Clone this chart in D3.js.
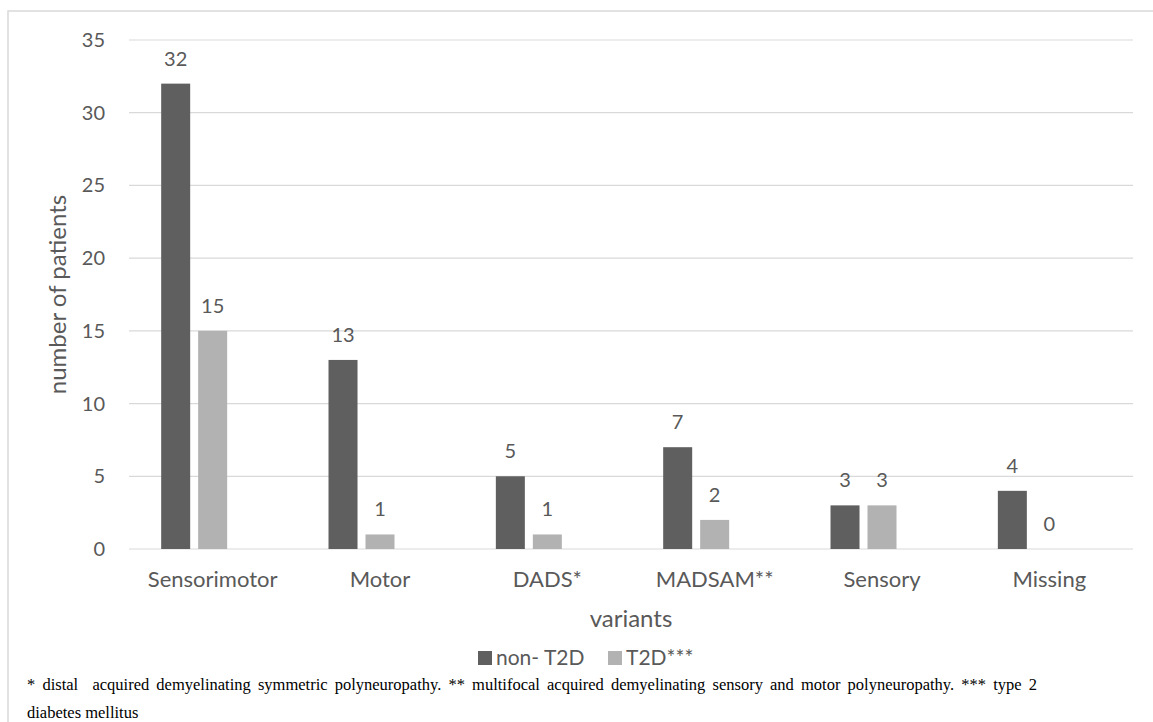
<!DOCTYPE html>
<html>
<head>
<meta charset="utf-8">
<script src="https://cdn.jsdelivr.net/npm/d3@7"></script>
<style>
  body { margin: 0; background: #fff; }
  svg { display: block; }
  .lbl { font-family: Lato, "Open Sans", sans-serif; fill: #595959; }
  .note { font-family: "Liberation Serif", "Times New Roman", serif; fill: #000; white-space: pre; }
</style>
</head>
<body>
<div id="chart"></div>
<script>
// data
const categories = ["Sensorimotor", "Motor", "DADS*", "MADSAM**", "Sensory", "Missing"];
const seriesNames = ["non- T2D", "T2D***"];
const nonT2D = [32, 13, 5, 7, 3, 4];
const t2d = [15, 1, 1, 2, 3, 0];
const yTicks = [0, 5, 10, 15, 20, 25, 30, 35];
const footLines = [
  "* distal  acquired demyelinating symmetric polyneuropathy. ** multifocal acquired demyelinating sensory and motor polyneuropathy. *** type 2",
  "diabetes mellitus"
];

const W = 1153, H = 722;
const color = ["#5f5f5f", "#b2b2b2"];

const svg = d3.select("#chart").append("svg")
  .attr("width", W).attr("height", H);

// outer frame (runs off the right and bottom edge)
svg.append("rect")
  .attr("x", 8).attr("y", 11)
  .attr("width", W).attr("height", H)
  .attr("fill", "none").attr("stroke", "#d9d9d9").attr("stroke-width", 1.5);

const plot = { left: 129, right: 1133, top: 40, bottom: 549 };

const x = d3.scaleBand().domain(categories).range([plot.left, plot.right]);
// Excel leaves room for a third (empty) series slot
const slots = d3.scaleBand().domain([0, 1, 2])
  .range([0, x.bandwidth()]).paddingOuter(0.87).paddingInner(0.216);
const y = d3.scaleLinear().domain([0, 35]).range([plot.bottom, plot.top]);

// gridlines
svg.append("g").selectAll("line").data(yTicks).join("line")
  .attr("x1", plot.left).attr("x2", plot.right)
  .attr("y1", d => y(d)).attr("y2", d => y(d))
  .attr("stroke", "#d9d9d9").attr("stroke-width", 1.2);

// y tick labels
svg.append("g").selectAll("text").data(yTicks).join("text")
  .attr("class", "lbl")
  .attr("x", 105).attr("y", d => y(d))
  .attr("dy", "0.35em")
  .attr("text-anchor", "end")
  .style("font-size", "20px")
  .text(d => d);

const series = [nonT2D, t2d];
const bars = [];
series.forEach((vals, s) => {
  vals.forEach((v, i) => bars.push({ s, cat: categories[i], v }));
});

svg.append("g").selectAll("rect").data(bars).join("rect")
  .attr("x", d => x(d.cat) + slots(d.s))
  .attr("width", slots.bandwidth())
  .attr("y", d => y(d.v))
  .attr("height", d => y(0) - y(d.v))
  .attr("fill", d => color[d.s]);

// value labels
svg.append("g").selectAll("text").data(bars).join("text")
  .attr("class", "lbl")
  .attr("x", d => x(d.cat) + slots(d.s) + slots.bandwidth() / 2)
  .attr("y", d => y(d.v) - 18)
  .attr("text-anchor", "middle")
  .style("font-size", "20px")
  .text(d => d.v);

// category labels
svg.append("g").selectAll("text").data(categories).join("text")
  .attr("class", "lbl")
  .attr("x", d => x(d) + x.bandwidth() / 2)
  .attr("y", 587)
  .attr("text-anchor", "middle")
  .style("font-size", "22px")
  .text(d => d);

// axis titles
svg.append("text").attr("class", "lbl")
  .attr("transform", `translate(66, ${(plot.top + plot.bottom) / 2}) rotate(-90)`)
  .attr("text-anchor", "middle")
  .style("font-size", "24px")
  .text("number of patients");

svg.append("text").attr("class", "lbl")
  .attr("x", (plot.left + plot.right) / 2).attr("y", 627)
  .attr("text-anchor", "middle")
  .style("font-size", "24px")
  .text("variants");

// legend
const legendX = [478, 608];
const lg = svg.append("g").selectAll("g").data(seriesNames).join("g")
  .attr("transform", (d, i) => `translate(${legendX[i]}, 651)`);
lg.append("rect").attr("width", 14).attr("height", 14)
  .attr("fill", (d, i) => color[i]);
lg.append("text").attr("class", "lbl")
  .attr("x", 18).attr("y", 14)
  .style("font-size", "21px")
  .text(d => d);

// footnote, justified on the first line
const notes = svg.append("g").selectAll("text").data(footLines).join("text")
  .attr("class", "note")
  .attr("x", 27).attr("y", (d, i) => 690 + i * 28)
  .style("font-size", "16.5px")
  .text(d => d);

const first = notes.nodes()[0];
const natural = first.getComputedTextLength();
const spaces = footLines[0].split(" ").length - 1;
const extra = (1037 - 27 - natural) / spaces;
d3.select(first).style("word-spacing", Math.max(extra, 0) + "px");
</script>
</body>
</html>
